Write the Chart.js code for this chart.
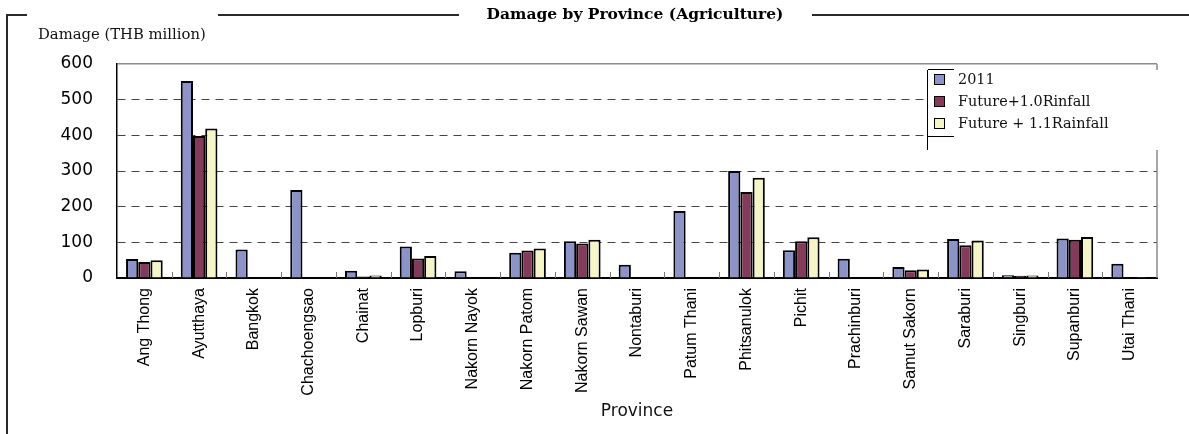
<!DOCTYPE html>
<html>
<head>
<meta charset="utf-8">
<script src="https://cdn.jsdelivr.net/npm/chart.js@4"></script>
<style>
  html, body { margin: 0; padding: 0; background: #fff; }
  #wrap { position: relative; width: 1189px; height: 434px; overflow: hidden; }
  #chart { position: absolute; left: 0; top: 0; }
  .rule { position: absolute; background: #2a2a2a; }
  #title {
    position: absolute; top: 4px; left: 480px; width: 310px; text-align: center;
    font: bold 15.5px "DejaVu Serif", serif; color: #000; white-space: nowrap;
  }
  #ylabel {
    position: absolute; top: 25px; left: 38px;
    font: 14.8px "DejaVu Serif", serif; color: #111; white-space: nowrap;
  }
  #legend {
    position: absolute; left: 927px; top: 70px; width: 245px; height: 80px;
    background: #fff; border-left: 1px solid #000;
  }
  #legend .edge { position: absolute; left: 0; width: 26px; height: 1px; background: #000; }
  #legend .item {
    position: absolute; left: 6px; height: 20px; line-height: 20px;
    font: 14.4px "DejaVu Serif", serif; color: #111; white-space: nowrap;
  }
  #legend .swatch {
    display: inline-block; width: 9px; height: 9px; border: 1.5px solid #000;
    vertical-align: middle; margin-right: 13px; position: relative; top: -1px;
  }
</style>
</head>
<body>
<div id="wrap">
  <canvas id="chart" width="1189" height="434"></canvas>
  <div class="rule" style="left:6px;top:14px;width:2px;height:420px"></div>
  <div class="rule" style="left:6px;top:14px;width:21px;height:2px"></div>
  <div class="rule" style="left:218px;top:14px;width:241px;height:2px"></div>
  <div class="rule" style="left:812px;top:14px;width:377px;height:2px"></div>
  <div id="title">Damage by Province (Agriculture)</div>
  <div id="ylabel">Damage (THB million)</div>
  <div id="legend"></div>
</div>
<script>
const provinces = [
    'Ang Thong', 'Ayutthaya', 'Bangkok', 'Chachoengsao', 'Chainat', 'Lopburi',
    'Nakorn Nayok', 'Nakorn Patom', 'Nakorn Sawan', 'Nontaburi', 'Patum Thani',
    'Phitsanulok', 'Pichit', 'Prachinburi', 'Samut Sakorn', 'Saraburi',
    'Singburi', 'Supanburi', 'Utai Thani'
];

// damage in THB million
const damage2011 = [53, 552, 80, 247, 20, 88, 19, 71, 103, 37, 188, 300, 78, 54, 31, 109, 8, 111, 40];
const damageRain10 = [45, 398, null, null, 4, 55, null, 77, 97, null, null, 241, 103, null, 22, 92, 6, 107, 2];
const damageRain11 = [50, 419, null, null, 7, 62, null, 83, 107, null, null, 281, 114, null, 24, 105, 7, 115, 3];

const seriesNames = ['2011', 'Future+1.0Rinfall', 'Future + 1.1Rainfall'];
const seriesColors = ['#8b93c8', '#853a5b', '#f5f5c6'];
const yTicks = [0, 100, 200, 300, 400, 500, 600];

// legend box
const legendEl = document.getElementById('legend');
let legendHtml = '<div class="edge" style="top:-1px"></div><div class="edge" style="top:66px"></div>';
seriesNames.forEach((name, i) => {
    legendHtml += `<div class="item" style="top:${1 + i * 22}px"><span class="swatch" style="background:${seriesColors[i]}"></span>${name}</div>`;
});
legendEl.innerHTML = legendHtml;

// right edge of the plot and the short category ticks on the x axis
const plotFrame = {
    id: 'plotFrame',
    beforeDatasetsDraw(chart) {
        const { ctx, chartArea, scales } = chart;
        ctx.save();
        ctx.strokeStyle = '#8a8a8a';
        ctx.lineWidth = 1.5;
        ctx.beginPath();
        ctx.moveTo(chartArea.right, chartArea.top);
        ctx.lineTo(chartArea.right, chartArea.bottom);
        ctx.stroke();

        const x = scales.x;
        const half = (x.getPixelForTick(1) - x.getPixelForTick(0)) / 2;
        ctx.strokeStyle = '#777';
        ctx.lineWidth = 1;
        for (let i = 1; i < provinces.length; i++) {
            const px = Math.round(x.getPixelForTick(i) - half) + 0.5;
            ctx.beginPath();
            ctx.moveTo(px, chartArea.bottom);
            ctx.lineTo(px, chartArea.bottom - 6);
            ctx.stroke();
        }
        ctx.restore();
    }
};

const ctx = document.getElementById('chart').getContext('2d');
new Chart(ctx, {
    type: 'bar',
    data: {
        labels: provinces,
        datasets: [damage2011, damageRain10, damageRain11].map((d, i) => ({
            label: seriesNames[i],
            data: d,
            backgroundColor: seriesColors[i],
            borderColor: '#000',
            borderWidth: 2,
            borderSkipped: 'bottom',
            categoryPercentage: 0.67,
            barPercentage: 1.0
        }))
    },
    options: {
        responsive: false,
        animation: false,
        layout: { padding: { left: 0, top: 64, right: 32, bottom: 0 } },
        plugins: {
            legend: { display: false },
            tooltip: { enabled: false }
        },
        scales: {
            x: {
                grid: { display: false },
                border: { display: true, color: '#000', width: 2 },
                ticks: {
                    autoSkip: false,
                    maxRotation: 90,
                    minRotation: 90,
                    padding: 2,
                    color: '#000',
                    font: { family: '"Liberation Sans", Arial, sans-serif', size: 16 }
                },
                title: {
                    display: true,
                    text: 'Province',
                    color: '#111',
                    font: { family: '"DejaVu Sans", sans-serif', size: 17 },
                    padding: { top: 0, bottom: 12 }
                },
                afterFit(scale) { scale.height = 156; }
            },
            y: {
                min: 0,
                max: 600,
                afterBuildTicks(scale) { scale.ticks = yTicks.map(v => ({ value: v })); },
                grid: {
                    drawTicks: false,
                    color: c => (c.tick && c.tick.value === 0) ? 'rgba(0,0,0,0)'
                        : (c.tick && c.tick.value === 600 ? '#8a8a8a' : '#444'),
                    lineWidth: c => (c.tick && c.tick.value === 600) ? 1.5 : 1
                },
                border: {
                    display: true,
                    color: '#000',
                    width: 1.5,
                    dash: c => (c.tick && c.tick.value === 600) ? [] : [8, 6]
                },
                ticks: {
                    padding: 24,
                    color: '#000',
                    font: { family: '"DejaVu Sans", sans-serif', size: 17 }
                },
                afterFit(scale) { scale.width = 117; }
            }
        }
    },
    plugins: [plotFrame]
});
</script>
</body>
</html>
